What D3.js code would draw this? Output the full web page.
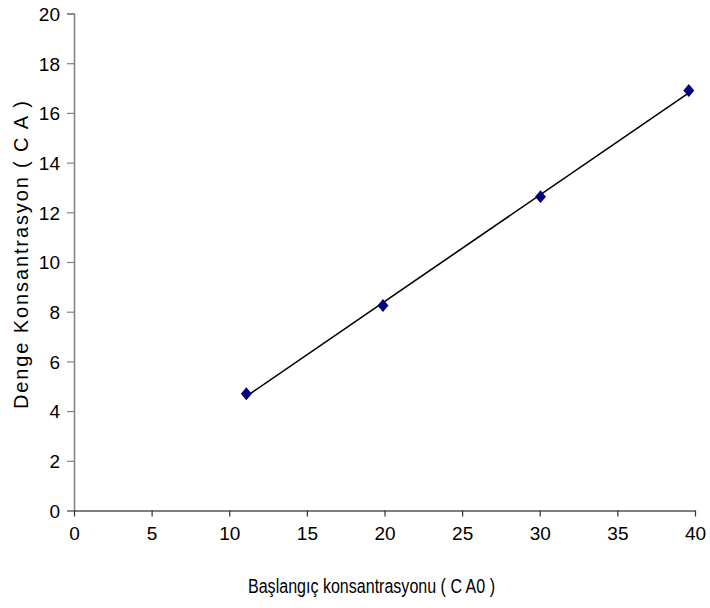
<!DOCTYPE html>
<html>
<head>
<meta charset="utf-8">
<script src="https://cdn.jsdelivr.net/npm/d3@7"></script>
<style>
  body { margin: 0; background: #fff; }
  text { font-family: "Liberation Sans Narrow", "Liberation Sans", Arial, sans-serif; fill: #000; }
</style>
</head>
<body>
<script>
var caZero = [11.1, 19.9, 30.05, 39.6];
var caEq = [4.7, 8.25, 12.63, 16.9];
var xTicks = [0, 5, 10, 15, 20, 25, 30, 35, 40];
var yTicks = [0, 2, 4, 6, 8, 10, 12, 14, 16, 18, 20];
var xTitle = "Başlangıç konsantrasyonu ( C A0 )";
var yTitle = "Denge  Konsantrasyon ( C A )";

var fnt = "'Liberation Sans Narrow', 'Liberation Sans', Arial, sans-serif";

var x = d3.scaleLinear().domain([0, 40]).range([74, 695]);
var y = d3.scaleLinear().domain([0, 20]).range([510.5, 13.5]);

var svg = d3.select("body").append("svg").attr("width", 710).attr("height", 608);

// y axis (gray)
var yAxis = d3.axisLeft(y).tickValues(yTicks).tickSize(7).tickPadding(7);
var gy = svg.append("g").attr("transform", "translate(74,0)").call(yAxis);
gy.select(".domain").attr("stroke", "#808080").attr("stroke-width", 1.5);
gy.selectAll(".tick line").attr("stroke", "#808080").attr("stroke-width", 1.2);
gy.selectAll(".tick text").attr("font-size", 19).attr("font-family", fnt).attr("fill", "#000").attr("dy", "0.36em");

// x axis (black)
var xAxis = d3.axisBottom(x).tickValues(xTicks).tickSize(6).tickSizeOuter(0).tickPadding(10);
var gx = svg.append("g").attr("transform", "translate(0,510.5)").call(xAxis);
gx.select(".domain").attr("stroke", "#000").attr("stroke-width", 1.2);
gx.selectAll(".tick line").attr("stroke", "#333").attr("stroke-width", 1.2);
gx.selectAll(".tick text").attr("font-size", 19).attr("font-family", fnt).attr("fill", "#000");

// linear trend line
var mx = d3.mean(caZero), my = d3.mean(caEq);
var sxy = d3.sum(caZero, function(d, i) { return (d - mx) * (caEq[i] - my); });
var sxx = d3.sum(caZero, function(d) { return (d - mx) * (d - mx); });
var slope = sxy / sxx, icpt = my - slope * mx;
var ext = d3.extent(caZero);
svg.append("line")
  .attr("x1", x(ext[0])).attr("y1", y(icpt + slope * ext[0]))
  .attr("x2", x(ext[1])).attr("y2", y(icpt + slope * ext[1]))
  .attr("stroke", "#000").attr("stroke-width", 1.6);

// markers
var sym = d3.symbol().type(d3.symbolSquare).size(60);
svg.selectAll("path.pt")
  .data(caZero)
  .enter().append("path")
  .attr("class", "pt")
  .attr("d", sym)
  .attr("transform", function(d, i) { return "translate(" + x(d) + "," + y(caEq[i]) + ") scale(1,1.18) rotate(45)"; })
  .attr("fill", "#000080");

// titles
svg.append("text")
  .attr("x", 248).attr("y", 593)
  .attr("font-size", 20).attr("font-family", fnt)
  .attr("textLength", 247).attr("lengthAdjust", "spacingAndGlyphs")
  .text(xTitle);

svg.append("text")
  .attr("transform", "translate(28,409) rotate(-90)")
  .attr("font-size", 20).attr("font-family", fnt)
  .attr("textLength", 308).attr("lengthAdjust", "spacing")
  .text(yTitle);
</script>
</body>
</html>
